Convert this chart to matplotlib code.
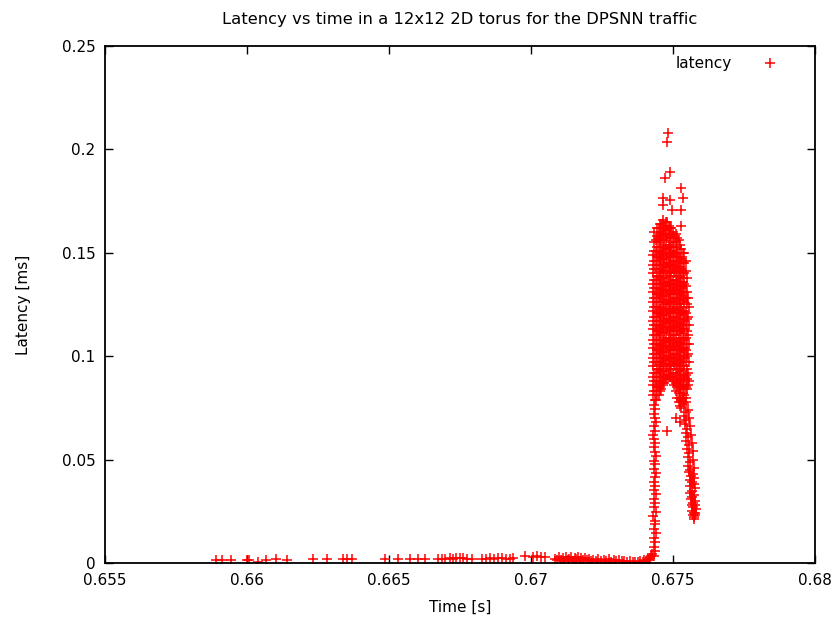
import matplotlib
matplotlib.use('Agg')
import matplotlib.pyplot as plt

# quiet period before the burst
low_t = [0.65891, 0.65912, 0.65944, 0.66000, 0.66007, 0.66039, 0.66067, 0.66102, 0.66141, 0.66232,
         0.66282, 0.66338, 0.66352, 0.66370, 0.66486, 0.66532, 0.66574, 0.66602, 0.66627, 0.66673,
         0.66687, 0.66697, 0.66715, 0.66725, 0.66736, 0.66750, 0.66761, 0.66775, 0.66792, 0.66827,
         0.66842, 0.66856, 0.66870, 0.66884, 0.66898, 0.66912, 0.66926, 0.66937, 0.66979, 0.67007,
         0.67021, 0.67035, 0.67049]
low_lat = [0.0013, 0.0015, 0.0012, 0.0016, 0.0014, 0.0006, 0.0013, 0.0017, 0.0015, 0.0018,
           0.0019, 0.0019, 0.0017, 0.0018, 0.0019, 0.0018, 0.0019, 0.0018, 0.0019, 0.0020,
           0.0019, 0.0021, 0.0023, 0.0020, 0.0024, 0.0022, 0.0026, 0.0021, 0.0019, 0.0018,
           0.0020, 0.0022, 0.0021, 0.0024, 0.0023, 0.0019, 0.0020, 0.0022, 0.0034, 0.0028,
           0.0032, 0.0030, 0.0027]

pre_t = [0.67085, 0.67093, 0.67100, 0.67106, 0.67112, 0.67118, 0.67124, 0.67130, 0.67136, 0.67142,
         0.67148, 0.67154, 0.67160, 0.67166, 0.67172, 0.67178, 0.67184, 0.67190, 0.67196, 0.67203,
         0.67212, 0.67220, 0.67230, 0.67238, 0.67248, 0.67256, 0.67265, 0.67275, 0.67283, 0.67292,
         0.67300, 0.67310, 0.67320, 0.67328, 0.67338, 0.67348, 0.67358, 0.67368, 0.67378, 0.67386,
         0.67394, 0.67400, 0.67406, 0.67411, 0.67416, 0.67420, 0.67424, 0.67427]
pre_lat = [0.0020, 0.0012, 0.0030, 0.0016, 0.0024, 0.0009, 0.0027, 0.0014, 0.0021, 0.0031,
           0.0011, 0.0025, 0.0018, 0.0029, 0.0008, 0.0022, 0.0015, 0.0026, 0.0012, 0.0019,
           0.0007, 0.0016, 0.0011, 0.0020, 0.0008, 0.0014, 0.0010, 0.0017, 0.0006, 0.0012,
           0.0009, 0.0015, 0.0007, 0.0011, 0.0005, 0.0009, 0.0004, 0.0006, 0.0003, 0.0008,
           0.0005, 0.0012, 0.0009, 0.0018, 0.0014, 0.0025, 0.0032, 0.0045]

# rising edge of the burst
rise_t = [0.67434, 0.67438, 0.67432, 0.67437, 0.67435, 0.67440, 0.67433, 0.67438, 0.67436, 0.67431,
          0.67439, 0.67434, 0.67437, 0.67432, 0.67440, 0.67435, 0.67438, 0.67433, 0.67436, 0.67439,
          0.67432, 0.67437, 0.67434, 0.67440, 0.67436, 0.67433, 0.67438, 0.67435, 0.67431, 0.67437,
          0.67434, 0.67439, 0.67436, 0.67432, 0.67438, 0.67435, 0.67437]
rise_lat = [0.0035, 0.0058, 0.0079, 0.0102, 0.0121, 0.0144, 0.0163, 0.0187, 0.0205, 0.0228,
            0.0246, 0.0271, 0.0289, 0.0310, 0.0332, 0.0351, 0.0374, 0.0392, 0.0415, 0.0433,
            0.0456, 0.0477, 0.0495, 0.0518, 0.0537, 0.0559, 0.0580, 0.0598, 0.0621, 0.0640,
            0.0663, 0.0681, 0.0703, 0.0722, 0.0745, 0.0764, 0.0786]

# peak of the burst, one list of latencies per time column
peak_t = [0.67430, 0.67440, 0.67450, 0.67460, 0.67470, 0.67480, 0.67490,
          0.67500, 0.67510, 0.67520, 0.67530, 0.67540, 0.67550, 0.67558]
peak_lat = [
    [0.081, 0.086, 0.090, 0.095, 0.099, 0.104, 0.108, 0.113, 0.117, 0.122, 0.126, 0.131, 0.135, 0.140, 0.144, 0.149],
    [0.079, 0.083, 0.088, 0.092, 0.097, 0.101, 0.106, 0.110, 0.115, 0.119, 0.124, 0.128, 0.133, 0.137, 0.142, 0.146, 0.151, 0.156],
    [0.081, 0.085, 0.090, 0.094, 0.099, 0.103, 0.108, 0.112, 0.117, 0.121, 0.126, 0.130, 0.135, 0.139, 0.144, 0.148, 0.153, 0.157, 0.162],
    [0.084, 0.088, 0.093, 0.097, 0.102, 0.106, 0.111, 0.115, 0.120, 0.124, 0.129, 0.133, 0.138, 0.142, 0.147, 0.151, 0.156, 0.160, 0.164],
    [0.087, 0.091, 0.096, 0.100, 0.105, 0.109, 0.114, 0.118, 0.123, 0.127, 0.132, 0.136, 0.141, 0.145, 0.150, 0.154, 0.159, 0.163],
    [0.089, 0.094, 0.098, 0.103, 0.107, 0.112, 0.116, 0.121, 0.125, 0.130, 0.134, 0.139, 0.143, 0.148, 0.152, 0.157, 0.161, 0.165],
    [0.090, 0.095, 0.099, 0.104, 0.108, 0.113, 0.117, 0.122, 0.126, 0.131, 0.135, 0.140, 0.144, 0.149, 0.153, 0.158, 0.162],
    [0.088, 0.092, 0.097, 0.101, 0.106, 0.110, 0.115, 0.119, 0.124, 0.128, 0.133, 0.137, 0.142, 0.146, 0.151, 0.155, 0.160],
    [0.083, 0.087, 0.092, 0.096, 0.101, 0.105, 0.110, 0.114, 0.119, 0.123, 0.128, 0.132, 0.137, 0.141, 0.146, 0.150, 0.155, 0.159],
    [0.078, 0.082, 0.087, 0.091, 0.096, 0.100, 0.105, 0.109, 0.114, 0.118, 0.123, 0.127, 0.132, 0.136, 0.141, 0.145, 0.150, 0.156],
    [0.079, 0.084, 0.088, 0.093, 0.097, 0.102, 0.106, 0.111, 0.115, 0.120, 0.124, 0.129, 0.133, 0.138, 0.142, 0.147, 0.152],
    [0.081, 0.086, 0.090, 0.095, 0.099, 0.104, 0.108, 0.113, 0.117, 0.122, 0.126, 0.131, 0.135, 0.140, 0.145, 0.150],
    [0.084, 0.089, 0.094, 0.100, 0.106, 0.112, 0.118, 0.125, 0.131, 0.138],
    [0.088, 0.097, 0.106, 0.115, 0.124],
]

# second, staggered set of peak columns
peak2_t = [0.67435, 0.67445, 0.67455, 0.67465, 0.67475, 0.67485, 0.67495,
           0.67505, 0.67515, 0.67525, 0.67535, 0.67545, 0.67553]
peak2_lat = [
    [0.083, 0.088, 0.092, 0.097, 0.101, 0.106, 0.110, 0.115, 0.119, 0.124, 0.128, 0.133, 0.137, 0.142, 0.146, 0.151, 0.155, 0.160],
    [0.081, 0.085, 0.090, 0.094, 0.099, 0.103, 0.108, 0.112, 0.117, 0.121, 0.126, 0.130, 0.135, 0.139, 0.144, 0.148, 0.153, 0.158, 0.162],
    [0.083, 0.087, 0.092, 0.096, 0.101, 0.105, 0.110, 0.114, 0.119, 0.123, 0.128, 0.132, 0.137, 0.141, 0.146, 0.150, 0.155, 0.159, 0.164],
    [0.086, 0.090, 0.095, 0.099, 0.104, 0.108, 0.113, 0.117, 0.122, 0.126, 0.131, 0.135, 0.140, 0.144, 0.149, 0.153, 0.158, 0.162, 0.166],
    [0.089, 0.093, 0.098, 0.102, 0.107, 0.111, 0.116, 0.120, 0.125, 0.129, 0.134, 0.138, 0.143, 0.147, 0.152, 0.156, 0.161, 0.165],
    [0.091, 0.096, 0.100, 0.105, 0.109, 0.114, 0.118, 0.123, 0.127, 0.132, 0.136, 0.141, 0.145, 0.150, 0.154, 0.159, 0.163],
    [0.090, 0.094, 0.099, 0.103, 0.108, 0.112, 0.117, 0.121, 0.126, 0.130, 0.135, 0.139, 0.144, 0.148, 0.153, 0.157, 0.162],
    [0.086, 0.090, 0.095, 0.099, 0.104, 0.108, 0.113, 0.117, 0.122, 0.126, 0.131, 0.135, 0.140, 0.144, 0.149, 0.153, 0.158],
    [0.080, 0.085, 0.089, 0.094, 0.098, 0.103, 0.107, 0.112, 0.116, 0.121, 0.125, 0.130, 0.134, 0.139, 0.143, 0.148, 0.153, 0.157],
    [0.076, 0.080, 0.085, 0.089, 0.094, 0.098, 0.103, 0.107, 0.112, 0.116, 0.121, 0.125, 0.130, 0.134, 0.139, 0.143, 0.148, 0.154],
    [0.078, 0.082, 0.086, 0.091, 0.095, 0.100, 0.104, 0.109, 0.113, 0.118, 0.122, 0.127, 0.131, 0.136, 0.140, 0.145, 0.150],
    [0.080, 0.085, 0.091, 0.097, 0.103, 0.109, 0.115, 0.121, 0.128, 0.134, 0.141, 0.146],
    [0.086, 0.092, 0.101, 0.110, 0.119, 0.128],
]

# falling tail
tail_t = [0.67535, 0.67540, 0.67530, 0.67545, 0.67538, 0.67548, 0.67542, 0.67550, 0.67545, 0.67553,
          0.67548, 0.67556, 0.67550, 0.67558, 0.67553, 0.67560, 0.67555, 0.67562, 0.67557, 0.67564,
          0.67559, 0.67566, 0.67561, 0.67567, 0.67562, 0.67569, 0.67564, 0.67570, 0.67566, 0.67572,
          0.67568, 0.67574, 0.67570, 0.67575]
tail_lat = [0.080, 0.077, 0.075, 0.073, 0.071, 0.069, 0.067, 0.065, 0.063, 0.061,
            0.059, 0.057, 0.055, 0.053, 0.051, 0.049, 0.047, 0.045, 0.044, 0.042,
            0.040, 0.039, 0.037, 0.035, 0.034, 0.032, 0.031, 0.029, 0.028, 0.027,
            0.025, 0.024, 0.023, 0.022]
tail2_t = [0.67545, 0.67552, 0.67558, 0.67560, 0.67565, 0.67566, 0.67570, 0.67570, 0.67574, 0.67572,
           0.67576, 0.67574, 0.67578, 0.67576, 0.67579, 0.67577, 0.67580, 0.67578, 0.67577, 0.67576]
tail2_lat = [0.078, 0.074, 0.070, 0.066, 0.062, 0.058, 0.054, 0.050, 0.046, 0.043,
             0.041, 0.038, 0.036, 0.033, 0.030, 0.028, 0.026, 0.024, 0.023, 0.021]

# isolated points
out_t = [0.67482, 0.67479, 0.67489, 0.67472, 0.67530, 0.67535, 0.67465, 0.67465,
         0.67489, 0.67528, 0.67496, 0.67530, 0.67478, 0.67512, 0.67525]
out_lat = [0.2079, 0.2036, 0.189, 0.186, 0.1813, 0.1765, 0.1765, 0.173,
           0.1755, 0.1707, 0.1707, 0.163, 0.064, 0.070, 0.068]

t = low_t + pre_t + rise_t + tail_t + tail2_t + out_t
lat = low_lat + pre_lat + rise_lat + tail_lat + tail2_lat + out_lat
for ti, col in zip(peak_t + peak2_t, peak_lat + peak2_lat):
    t += [ti] * len(col)
    lat += col

fig = plt.figure(figsize=(8.4, 6.22), dpi=100)
ax = fig.add_axes([0.125, 0.095, 0.845, 0.831])

ax.plot(t, lat, linestyle='none', marker='+', color='#ff0000',
        markersize=6.5, markeredgewidth=1.1, label='latency')

ax.set_xlim(0.655, 0.68)
ax.set_ylim(0, 0.25)
xt = [0.655, 0.66, 0.665, 0.67, 0.675, 0.68]
yt = [0, 0.05, 0.1, 0.15, 0.2, 0.25]
ax.set_xticks(xt)
ax.set_xticklabels(['0.655', '0.66', '0.665', '0.67', '0.675', '0.68'])
ax.set_yticks(yt)
ax.set_yticklabels(['0', '0.05', '0.1', '0.15', '0.2', '0.25'])
ax.tick_params(direction='in', length=6, width=1, top=True, right=True,
               labelsize=11, pad=7)
for s in ax.spines.values():
    s.set_linewidth(1.3)

ax.set_xlabel('Time [s]', fontsize=11, labelpad=9)
ax.set_ylabel('Latency [ms]', fontsize=11, labelpad=22)
ax.set_title('Latency vs time in a 12x12 2D torus for the DPSNN traffic',
             fontsize=11.8, pad=16)

ax.legend(loc='upper right', bbox_to_anchor=(1.0, 1.01), frameon=False,
          markerfirst=False, fontsize=11, handlelength=3.8,
          handletextpad=0.6, borderaxespad=0.6)

fig.savefig('out.png', dpi=100)
